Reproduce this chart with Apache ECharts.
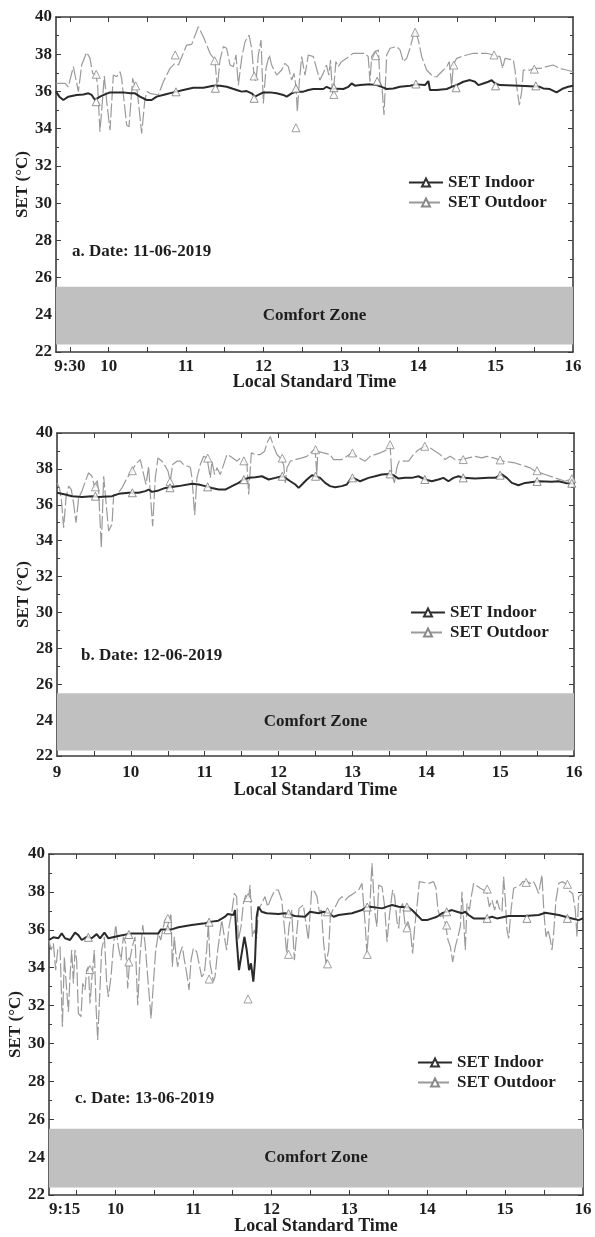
<!DOCTYPE html>
<html>
<head>
<meta charset="utf-8">
<script src="https://cdn.jsdelivr.net/npm/echarts@6/dist/echarts.min.js"></script>
<style>
  html, body { margin: 0; background: #fff; }
  #chart { width: 595px; height: 1237px; }
</style>
</head>
<body>
<div id="chart"></div>
<script>
// ---- data: [hour, SET degC] ----
const outdoorA = [[9.32,36.43],[9.436,36.43],[9.479,36.25],[9.544,37.33],[9.609,35.99],[9.652,37.42],[9.716,38.1],[9.759,37.78],[9.794,36.97],[9.837,36.88],[9.858,36.34],[9.888,33.84],[9.919,35.45],[9.944,36.83],[9.975,35.45],[10.018,33.92],[10.061,36.88],[10.104,36.79],[10.147,37.06],[10.168,36.7],[10.233,34.19],[10.263,34.1],[10.311,36.7],[10.341,36.25],[10.371,35.99],[10.427,33.75],[10.47,35.63],[10.5,35.99],[10.534,35.9],[10.642,35.81],[10.707,36.52],[10.793,37.24],[10.857,37.51],[10.901,37.42],[11.008,38.49],[11.073,38.53],[11.159,39.48],[11.224,38.94],[11.31,38.05],[11.374,37.69],[11.404,36.16],[11.439,37.69],[11.482,38.41],[11.525,38.32],[11.568,37.42],[11.611,37.33],[11.646,37.96],[11.676,36.34],[11.719,37.78],[11.762,38.67],[11.814,39.03],[11.848,38.32],[11.878,36.88],[11.904,36.52],[11.934,37.96],[11.969,38.76],[11.999,35.36],[12.033,37.24],[12.076,37.96],[12.106,37.42],[12.171,36.88],[12.236,37.15],[12.279,37.51],[12.322,37.33],[12.365,36.61],[12.395,36.97],[12.421,36.25],[12.438,34.91],[12.464,36.52],[12.494,37.87],[12.537,36.88],[12.58,37.96],[12.645,37.87],[12.686,37.24],[12.729,36.61],[12.772,36.97],[12.815,37.42],[12.845,36.88],[12.867,37.69],[12.889,36.08],[12.901,35.81],[12.936,37.6],[12.966,37.33],[13.009,37.6],[13.074,37.78],[13.16,38.05],[13.311,38.05],[13.354,37.87],[13.377,36.52],[13.399,37.87],[13.441,38.14],[13.485,38.23],[13.506,36.52],[13.532,36.25],[13.558,34.73],[13.593,37.96],[13.636,38.32],[13.722,38.41],[13.765,38.23],[13.808,37.6],[13.851,37.78],[13.894,38.32],[13.937,39.03],[13.959,39.3],[14.002,38.76],[14.045,37.87],[14.109,37.15],[14.195,36.79],[14.239,36.79],[14.303,37.06],[14.368,37.33],[14.402,37.6],[14.432,36.25],[14.454,37.42],[14.497,37.78],[14.56,37.87],[14.626,37.96],[14.712,38.05],[14.884,38.05],[14.971,37.96],[15.057,37.87],[15.091,37.24],[15.121,37.78],[15.229,37.69],[15.251,37.15],[15.281,35.99],[15.307,35.27],[15.337,35.99],[15.358,37.15],[15.444,37.15],[15.5,37.24],[15.573,37.24],[15.658,37.33],[15.744,37.42],[15.83,37.24],[15.916,37.15],[16.0,37.06]];
const indoorA = [[9.32,35.99],[9.363,35.72],[9.415,35.54],[9.479,35.72],[9.587,35.81],[9.673,35.84],[9.738,35.9],[9.781,35.81],[9.824,35.54],[9.888,35.72],[9.953,35.84],[10.018,35.95],[10.19,35.95],[10.276,35.9],[10.341,35.9],[10.405,35.72],[10.491,35.54],[10.556,35.54],[10.621,35.72],[10.728,35.84],[10.836,35.95],[10.965,36.08],[11.094,36.2],[11.224,36.2],[11.353,36.31],[11.439,36.31],[11.525,36.25],[11.654,36.08],[11.719,35.99],[11.783,36.02],[11.848,35.9],[11.891,35.72],[11.934,35.81],[11.999,35.95],[12.085,35.95],[12.171,35.9],[12.257,35.81],[12.3,35.72],[12.365,35.9],[12.429,35.99],[12.516,35.99],[12.58,36.08],[12.645,36.13],[12.774,36.13],[12.817,36.25],[12.86,36.16],[13.033,36.13],[13.097,36.25],[13.14,36.43],[13.183,36.31],[13.248,36.34],[13.377,36.38],[13.463,36.34],[13.528,36.25],[13.593,36.13],[13.679,36.16],[13.765,36.25],[13.894,36.31],[13.98,36.38],[14.088,36.34],[14.131,36.56],[14.152,36.08],[14.239,36.08],[14.368,36.13],[14.432,36.25],[14.497,36.34],[14.583,36.52],[14.669,36.61],[14.734,36.52],[14.777,36.34],[14.841,36.43],[14.906,36.52],[14.949,36.61],[14.992,36.43],[15.057,36.34],[15.313,36.31],[15.572,36.25],[15.615,36.16],[15.701,36.13],[15.787,35.95],[15.873,36.16],[15.938,36.25],[16.0,36.31]];
const outMarksA = [[9.84,36.92],[10.35,36.3],[10.86,37.96],[11.37,37.65],[11.88,36.83],[12.42,34.05],[12.91,35.84],[13.45,37.92],[13.96,39.18],[14.46,37.42],[14.98,37.96],[15.5,37.2]];
const inMarksA = [[9.84,35.45],[10.87,35.98],[11.38,36.17],[11.88,35.63],[12.42,36.16],[12.91,36.2],[13.47,36.55],[13.97,36.4],[14.49,36.2],[15.0,36.3],[15.52,36.3]];

const outdoorB = [[9.0,37.22],[9.032,36.94],[9.059,36.3],[9.09,34.72],[9.122,36.39],[9.158,37.04],[9.194,36.85],[9.226,36.02],[9.257,35.0],[9.293,36.39],[9.338,36.76],[9.384,37.31],[9.429,37.78],[9.474,37.59],[9.51,36.94],[9.542,37.41],[9.564,36.76],[9.6,33.61],[9.632,37.59],[9.654,36.57],[9.699,34.54],[9.745,34.91],[9.767,36.57],[9.812,36.57],[9.88,36.94],[9.948,37.5],[10.015,37.87],[10.06,38.24],[10.128,38.52],[10.173,37.69],[10.205,37.13],[10.241,38.15],[10.264,36.57],[10.295,34.81],[10.331,37.5],[10.367,38.61],[10.421,38.43],[10.467,38.15],[10.503,37.87],[10.534,37.31],[10.566,38.24],[10.625,38.43],[10.67,38.43],[10.715,38.24],[10.805,38.09],[10.828,37.5],[10.864,35.43],[10.895,37.5],[10.94,38.24],[10.986,38.7],[11.031,38.61],[11.076,37.5],[11.098,38.43],[11.134,37.69],[11.166,38.06],[11.211,37.69],[11.256,38.24],[11.301,38.8],[11.347,38.7],[11.437,38.43],[11.482,38.61],[11.527,38.43],[11.572,38.24],[11.595,36.57],[11.631,38.89],[11.685,38.8],[11.753,38.8],[11.811,38.98],[11.843,39.44],[11.888,39.81],[11.933,39.26],[11.978,38.8],[12.023,38.61],[12.069,38.24],[12.091,37.22],[12.114,38.06],[12.159,38.43],[12.227,38.52],[12.317,38.61],[12.384,38.7],[12.452,38.98],[12.495,39.07],[12.518,37.69],[12.531,38.98],[12.608,38.89],[12.698,38.8],[12.743,38.52],[12.856,38.52],[12.924,38.7],[12.992,38.89],[13.059,38.7],[13.127,38.52],[13.172,38.43],[13.24,38.7],[13.375,38.89],[13.465,39.07],[13.51,39.35],[13.533,37.69],[13.569,37.22],[13.601,38.06],[13.632,38.43],[13.759,38.43],[13.826,38.8],[13.894,39.07],[13.984,39.26],[14.052,39.17],[14.12,38.98],[14.187,38.8],[14.255,38.52],[14.323,38.7],[14.39,38.52],[14.481,38.52],[14.571,38.61],[14.661,38.7],[14.751,38.61],[14.819,38.7],[14.909,38.61],[15.045,38.43],[15.203,38.33],[15.27,38.24],[15.406,38.06],[15.473,37.87],[15.609,37.69],[15.744,37.5],[15.88,37.31],[15.947,37.41],[16.0,37.5]];
const indoorB = [[9.0,36.67],[9.113,36.57],[9.203,36.48],[9.338,36.43],[9.474,36.48],[9.564,36.43],[9.745,36.48],[9.835,36.61],[9.97,36.67],[10.106,36.67],[10.196,36.76],[10.241,36.85],[10.286,36.72],[10.376,36.8],[10.467,36.94],[10.647,37.04],[10.828,37.17],[10.918,37.13],[11.008,37.04],[11.098,36.94],[11.189,36.85],[11.279,36.85],[11.369,37.04],[11.459,37.22],[11.527,37.41],[11.595,37.5],[11.685,37.54],[11.775,37.59],[11.866,37.41],[11.956,37.5],[12.046,37.59],[12.091,37.5],[12.159,37.31],[12.227,37.13],[12.272,36.94],[12.317,37.13],[12.384,37.41],[12.452,37.65],[12.495,37.59],[12.563,37.5],[12.631,37.22],[12.698,37.04],[12.766,36.98],[12.856,37.04],[12.924,37.13],[12.969,37.41],[13.014,37.5],[13.104,37.31],[13.217,37.5],[13.307,37.59],[13.398,37.69],[13.488,37.72],[13.556,37.65],[13.623,37.46],[13.714,37.5],[13.804,37.5],[13.894,37.59],[13.984,37.41],[14.074,37.31],[14.165,37.41],[14.232,37.5],[14.3,37.31],[14.368,37.5],[14.436,37.59],[14.503,37.5],[14.661,37.46],[14.842,37.5],[14.932,37.5],[15.022,37.69],[15.09,37.5],[15.158,37.22],[15.248,37.09],[15.338,37.22],[15.519,37.31],[15.699,37.28],[15.789,37.31],[15.88,37.22],[16.0,37.17]];
const outMarksB = [[9.52,37.0],[10.02,37.9],[10.53,37.3],[11.04,38.6],[11.53,38.45],[12.05,38.6],[12.5,39.07],[13.0,38.89],[13.51,39.35],[13.98,39.26],[14.5,38.52],[15.0,38.5],[15.5,37.9],[15.97,37.45]];
const inMarksB = [[9.52,36.48],[10.02,36.67],[10.53,36.95],[11.04,37.0],[11.53,37.4],[12.05,37.59],[12.5,37.59],[13.0,37.5],[13.51,37.72],[13.98,37.41],[14.5,37.5],[15.0,37.65],[15.5,37.3],[15.97,37.2]];

const outdoorC = [[9.145,35.46],[9.171,34.93],[9.201,35.28],[9.231,33.87],[9.257,34.93],[9.287,35.11],[9.317,30.88],[9.342,34.58],[9.372,32.82],[9.394,31.67],[9.415,33.52],[9.436,34.93],[9.458,33.17],[9.479,34.93],[9.5,34.4],[9.522,31.58],[9.556,31.41],[9.578,33.17],[9.607,32.82],[9.629,33.87],[9.65,34.05],[9.672,32.11],[9.693,33.35],[9.727,34.93],[9.749,31.94],[9.77,30.18],[9.791,32.11],[9.821,34.93],[9.856,35.63],[9.886,33.17],[9.907,32.46],[9.941,33.52],[9.971,35.11],[10.001,36.25],[10.035,35.11],[10.07,34.4],[10.1,35.63],[10.13,35.28],[10.155,32.9],[10.181,34.4],[10.215,35.11],[10.249,35.63],[10.284,32.02],[10.313,34.58],[10.348,36.25],[10.378,35.28],[10.412,33.52],[10.455,31.32],[10.485,33.17],[10.515,34.93],[10.549,35.81],[10.579,35.46],[10.613,36.16],[10.643,36.6],[10.664,36.16],[10.69,36.51],[10.711,36.87],[10.728,34.05],[10.754,35.63],[10.771,34.84],[10.797,34.05],[10.827,34.75],[10.857,35.11],[10.883,34.4],[10.913,33.7],[10.943,32.82],[10.968,34.4],[10.998,35.02],[11.041,34.84],[11.071,34.23],[11.105,33.52],[11.139,33.7],[11.169,34.93],[11.191,36.34],[11.212,34.23],[11.255,33.26],[11.276,33.52],[11.311,34.93],[11.34,35.81],[11.362,36.51],[11.396,35.63],[11.426,34.93],[11.456,36.16],[11.49,36.87],[11.524,37.92],[11.554,37.75],[11.576,35.46],[11.61,36.16],[11.64,37.39],[11.67,37.83],[11.704,37.57],[11.726,38.36],[11.756,35.63],[11.781,35.99],[11.811,35.55],[11.833,37.04],[11.875,37.39],[11.918,37.75],[11.952,37.22],[12.004,37.75],[12.046,38.1],[12.089,38.1],[12.132,37.57],[12.166,36.16],[12.196,34.75],[12.226,36.16],[12.26,37.04],[12.295,34.4],[12.325,35.81],[12.355,37.13],[12.41,37.31],[12.474,35.46],[12.517,38.1],[12.555,38.01],[12.585,37.75],[12.615,36.95],[12.641,37.04],[12.671,35.28],[12.701,34.23],[12.735,34.93],[12.756,36.69],[12.786,37.04],[12.821,37.22],[12.863,37.57],[12.906,37.75],[12.949,37.57],[12.992,37.75],[13.056,37.92],[13.12,38.1],[13.163,38.45],[13.184,38.54],[13.206,36.16],[13.227,34.67],[13.257,36.69],[13.291,39.51],[13.313,37.92],[13.334,36.69],[13.355,36.16],[13.377,38.36],[13.42,38.27],[13.454,37.22],[13.484,35.37],[13.514,36.69],[13.539,37.57],[13.557,38.1],[13.582,37.75],[13.612,36.43],[13.634,36.07],[13.655,37.13],[13.685,37.39],[13.719,36.16],[13.753,36.43],[13.783,35.99],[13.813,34.75],[13.839,36.16],[13.869,37.22],[13.899,38.54],[14.019,38.45],[14.083,38.54],[14.113,38.19],[14.138,37.04],[14.168,36.69],[14.198,36.78],[14.233,36.34],[14.267,35.46],[14.297,35.11],[14.327,34.31],[14.361,35.11],[14.395,35.63],[14.425,36.16],[14.447,38.01],[14.468,36.51],[14.489,34.93],[14.511,37.39],[14.541,37.04],[14.566,37.75],[14.596,38.45],[14.682,38.19],[14.725,38.1],[14.768,37.92],[14.797,37.22],[14.832,37.57],[14.866,37.04],[14.896,37.57],[14.926,37.13],[14.96,36.95],[14.981,38.8],[15.003,37.57],[15.024,35.99],[15.046,35.55],[15.076,37.04],[15.11,38.19],[15.195,38.36],[15.225,38.54],[15.281,38.54],[15.324,38.45],[15.367,38.54],[15.397,38.27],[15.431,37.92],[15.473,38.89],[15.499,36.87],[15.525,35.63],[15.551,35.99],[15.581,35.46],[15.602,34.93],[15.623,35.81],[15.653,37.57],[15.688,38.45],[15.73,38.54],[15.773,38.45],[15.807,38.1],[15.867,37.92],[15.901,37.04],[15.923,35.63],[15.944,37.75],[16.0,37.92]];
const indoorC = [[9.145,35.46],[9.201,35.6],[9.265,35.55],[9.308,35.81],[9.351,35.55],[9.415,35.46],[9.479,35.85],[9.522,35.72],[9.565,35.46],[9.629,35.63],[9.693,35.55],[9.757,35.77],[9.8,35.55],[9.856,35.85],[9.907,35.55],[10.035,35.67],[10.207,35.81],[10.378,35.81],[10.549,35.81],[10.583,36.02],[10.72,36.02],[10.806,36.13],[10.977,36.25],[11.148,36.34],[11.233,36.43],[11.319,36.48],[11.405,36.69],[11.439,36.83],[11.512,36.78],[11.533,37.04],[11.554,35.46],[11.584,33.87],[11.619,34.75],[11.653,35.63],[11.683,34.93],[11.713,33.87],[11.738,34.23],[11.768,33.26],[11.79,34.4],[11.811,36.69],[11.833,37.22],[11.875,36.95],[11.94,36.87],[12.089,36.83],[12.175,36.87],[12.303,36.73],[12.432,36.69],[12.496,36.95],[12.607,36.87],[12.671,36.95],[12.735,36.87],[12.799,36.69],[12.863,36.78],[13.034,36.87],[13.163,37.04],[13.206,37.18],[13.27,37.22],[13.42,37.13],[13.484,37.22],[13.548,37.31],[13.634,37.22],[13.762,37.18],[13.805,37.04],[13.869,36.78],[13.933,36.51],[13.997,36.51],[14.126,36.69],[14.19,36.87],[14.318,37.04],[14.382,36.95],[14.447,36.87],[14.489,36.95],[14.532,36.78],[14.596,36.6],[14.768,36.6],[14.832,36.69],[14.896,36.6],[15.046,36.73],[15.26,36.73],[15.431,36.78],[15.516,36.9],[15.688,36.78],[15.859,36.6],[15.944,36.51],[16.0,36.6]];
const outMarksC = [[9.67,33.9],[10.17,34.3],[10.67,36.6],[11.2,33.4],[11.7,32.35],[11.7,37.7],[12.22,34.7],[12.72,34.2],[13.23,34.7],[13.74,36.1],[14.25,36.25],[14.77,38.15],[15.27,38.5],[15.8,38.4]];
const inMarksC = [[9.65,35.6],[10.17,35.75],[10.67,36.0],[11.2,36.4],[12.22,36.85],[12.72,36.95],[13.23,37.2],[13.74,37.2],[14.25,36.95],[14.77,36.6],[15.28,36.6],[15.8,36.6]];

// comfort band [low, high] per panel
const comfortA = [22.4, 25.5];
const comfortB = [22.3, 25.5];
const comfortC = [22.4, 25.5];

// x-axis ranges, tick labels
const xRangeA = [9.32, 16];
const xRangeB = [9, 16];
const xRangeC = [9.145, 16];
const labelValsA = [9.5, 10, 11, 12, 13, 14, 15, 16];
const labelTextA = ['9:30', '10', '11', '12', '13', '14', '15', '16'];
const labelValsB = [9, 10, 11, 12, 13, 14, 15, 16];
const labelTextB = ['9', '10', '11', '12', '13', '14', '15', '16'];
const labelValsC = [9.145, 10, 11, 12, 13, 14, 15, 16];
const labelTextC = ['9:15', '10', '11', '12', '13', '14', '15', '16'];
const halfHours = [9.5, 10, 10.5, 11, 11.5, 12, 12.5, 13, 13.5, 14, 14.5, 15, 15.5];
const dates = ['a. Date: 11-06-2019', 'b. Date: 12-06-2019', 'c. Date: 13-06-2019'];

const FONT = '"Liberation Serif", "Times New Roman", serif';
const INK = '#1e1e1e';
const AXIS = '#3c3c3c';

const panels = [
  { grid: { left: 56, top: 17, width: 517, height: 335 }, xr: xRangeA, lv: labelValsA, lt: labelTextA,
    out: outdoorA, ind: indoorA, om: outMarksA, im: inMarksA, cz: comfortA,
    date: { left: 72, top: 243 }, legend: { left: 408, top: 174 }, lblMargin: 6, nameGap: 21 },
  { grid: { left: 57, top: 433, width: 517, height: 323 }, xr: xRangeB, lv: labelValsB, lt: labelTextB,
    out: outdoorB, ind: indoorB, om: outMarksB, im: inMarksB, cz: comfortB,
    date: { left: 81, top: 647 }, legend: { left: 410, top: 604 }, lblMargin: 8, nameGap: 25 },
  { grid: { left: 49, top: 854, width: 534, height: 341 }, xr: xRangeC, lv: labelValsC, lt: labelTextC,
    out: outdoorC, ind: indoorC, om: outMarksC, im: inMarksC, cz: comfortC,
    date: { left: 75, top: 1090 }, legend: { left: 417, top: 1054 }, lblMargin: 6, nameGap: 22 }
];

const boldText = (size) => ({ fontFamily: FONT, fontWeight: 'bold', fontSize: size, color: INK });

const grid = [], xAxis = [], yAxis = [], series = [], legend = [], title = [];

panels.forEach((p, i) => {
  grid.push(Object.assign({ containLabel: false, outerBoundsMode: 'none' }, p.grid));
  const lv = p.lv, lt = p.lt;
  // bottom axis with labels
  xAxis.push({
    type: 'value', gridIndex: i, min: p.xr[0], max: p.xr[1], position: 'bottom',
    axisLine: { show: true, lineStyle: { color: AXIS, width: 1.6 } },
    axisTick: { show: true, inside: true, length: 5, lineStyle: { color: AXIS }, customValues: halfHours },
    axisLabel: {
      show: true, margin: p.lblMargin, customValues: lv, alignMinLabel: i === 2 ? 'left' : 'center',
      formatter: (v) => { const k = lv.findIndex(x => Math.abs(x - v) < 1e-6); return k >= 0 ? lt[k] : ''; },
      ...boldText(17)
    },
    splitLine: { show: false },
    name: 'Local Standard Time', nameLocation: 'middle', nameGap: p.nameGap, nameMoveOverlap: false,
    nameTextStyle: boldText(18)
  });
  // top mirror axis
  xAxis.push({
    type: 'value', gridIndex: i, min: p.xr[0], max: p.xr[1], position: 'top',
    axisLine: { show: true, lineStyle: { color: AXIS, width: 1.6 } },
    axisTick: { show: true, inside: true, length: 5, lineStyle: { color: AXIS }, customValues: halfHours },
    axisLabel: { show: false }, splitLine: { show: false }
  });
  // left axis
  yAxis.push({
    type: 'value', gridIndex: i, min: 22, max: 40, interval: 2, position: 'left',
    axisLine: { show: true, lineStyle: { color: AXIS, width: 1.6 } },
    axisTick: { show: true, inside: true, length: 5, lineStyle: { color: AXIS } },
    minorTick: { show: true, splitNumber: 2, length: 3, lineStyle: { color: AXIS } },
    axisLabel: { margin: 4, ...boldText(17) },
    splitLine: { show: false },
    name: 'SET (°C)', nameLocation: 'middle', nameRotate: 90, nameGap: 25, nameMoveOverlap: false,
    nameTextStyle: boldText(17)
  });
  // right mirror axis
  yAxis.push({
    type: 'value', gridIndex: i, min: 22, max: 40, interval: 2, position: 'right',
    axisLine: { show: true, lineStyle: { color: AXIS, width: 1.6 } },
    axisTick: { show: true, inside: true, length: 5, lineStyle: { color: AXIS } },
    minorTick: { show: true, splitNumber: 2, length: 3, lineStyle: { color: AXIS } },
    axisLabel: { show: false }, splitLine: { show: false }
  });

  const xi = i * 2, yi = i * 2;
  series.push({
    name: 'SET Outdoor', type: 'line', xAxisIndex: xi, yAxisIndex: yi, data: p.out,
    showSymbol: false, symbol: 'triangle', symbolSize: 8,
    itemStyle: { color: '#fff', borderColor: '#8a8a8a', borderWidth: 1 },
    lineStyle: { color: '#9a9a9a', width: 1.2, type: [14, 3] },
    z: 3,
    markArea: {
      silent: true,
      itemStyle: { color: '#c0c0c0' },
      label: { show: true, position: 'inside', formatter: 'Comfort Zone', ...boldText(17) },
      data: [[{ yAxis: p.cz[0] }, { yAxis: p.cz[1] }]]
    }
  });
  series.push({
    name: 'SET Indoor', type: 'line', xAxisIndex: xi, yAxisIndex: yi, data: p.ind,
    showSymbol: false, symbol: 'triangle', symbolSize: 8,
    itemStyle: { color: '#fff', borderColor: '#333', borderWidth: 1 },
    lineStyle: { color: '#2a2a2a', width: 2 },
    z: 4
  });
  series.push({
    name: 'outdoor markers', type: 'scatter', xAxisIndex: xi, yAxisIndex: yi, data: p.om,
    symbol: 'triangle', symbolSize: 8,
    itemStyle: { color: '#fff', borderColor: '#8a8a8a', borderWidth: 1 }, z: 5
  });
  series.push({
    name: 'indoor markers', type: 'scatter', xAxisIndex: xi, yAxisIndex: yi, data: p.im,
    symbol: 'triangle', symbolSize: 8,
    itemStyle: { color: '#fff', borderColor: '#777', borderWidth: 1 }, z: 5
  });

  legend.push({
    data: ['SET Indoor', 'SET Outdoor'], orient: 'vertical', selectedMode: false,
    left: p.legend.left, top: p.legend.top, padding: 0,
    itemWidth: 34, itemHeight: 10, itemGap: 3,
    textStyle: boldText(17)
  });
  title.push({
    text: dates[i], left: p.date.left, top: p.date.top, padding: 0,
    textStyle: boldText(17)
  });
});

const chart = echarts.init(document.getElementById('chart'), null, { renderer: 'canvas' });
chart.setOption({
  animation: false,
  backgroundColor: '#fff',
  title, legend, grid, xAxis, yAxis, series
});
</script>
</body>
</html>
